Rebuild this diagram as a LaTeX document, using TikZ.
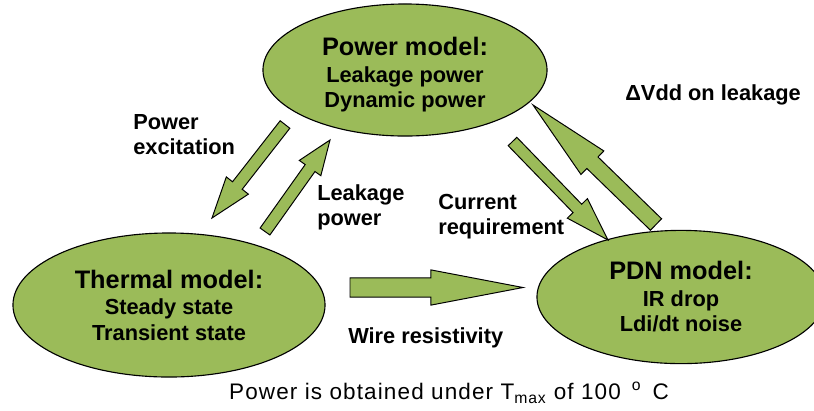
\documentclass[tikz,border=0pt]{standalone}
\usepackage{fontspec}
\setmainfont{Liberation Sans}
\usetikzlibrary{shapes.geometric,calc}

\definecolor{modelgreen}{RGB}{155,187,89}

% block arrow: tail, tip, half shaft width, half head width, head length
\newcommand{\blockarrow}[5]{%
  \coordinate (ab) at ($(#2)!#5!(#1)$);
  \draw[flowarrow] ($(#1)!#3!90:(#2)$) -- ($(ab)!#3!-90:(#1)$) -- ($(ab)!#4!-90:(#1)$) -- (#2)
    -- ($(ab)!#4!90:(#1)$) -- ($(ab)!#3!90:(#1)$) -- ($(#1)!#3!-90:(#2)$) -- cycle;
}

\begin{document}
\begin{tikzpicture}[x=0.025cm, y=-0.025cm,
    every node/.style={font=\bfseries\fontsize{15.5}{18}\selectfont},
    model/.style={ellipse, draw, line width=0.8pt, fill=modelgreen, align=center, inner sep=0pt},
    flowarrow/.style={draw, line width=0.7pt, fill=modelgreen, line join=miter},
    lbl/.style={anchor=north west, align=left, inner sep=0pt},
  ]
  \useasboundingbox (0,0) rectangle (814,410);

  % the three models
  \node[model, minimum width=7.1cm, minimum height=3.3cm] (pwr) at (405,70)
    {\rule{0pt}{20pt}{\fontsize{18}{18}\selectfont Power model:}\\[1pt] Leakage power\\ Dynamic power};
  \node[model, minimum width=7.8cm, minimum height=3.6cm] (thm) at (169,305)
    {{\fontsize{18}{18}\selectfont Thermal model:}\\[1pt] Steady state\\ Transient state};
  \node[model, minimum width=7.2cm, minimum height=3.33cm] (pdn) at (681,297)
    {{\fontsize{18}{18}\selectfont PDN model:}\\[1pt] IR drop\\ Ldi/dt noise};

  % arrow end points
  \coordinate (exc-t) at (285,124.5);  \coordinate (exc-h) at (212,218);
  \coordinate (lkg-t) at (265,231.5);  \coordinate (lkg-h) at (330,140);
  \coordinate (wire-t) at (350,287.5); \coordinate (wire-h) at (523,287.5);
  \coordinate (cur-t) at (512.5,141.5); \coordinate (cur-h) at (608,240);
  \coordinate (vdd-t) at (656,224.5);  \coordinate (vdd-h) at (533,105);

  \blockarrow{exc-t}{exc-h}{0.153cm}{0.35cm}{1.03cm}
  \blockarrow{lkg-t}{lkg-h}{0.15cm}{0.33cm}{0.86cm}
  \blockarrow{wire-t}{wire-h}{0.24cm}{0.44cm}{2.3cm}
  \blockarrow{cur-t}{cur-h}{0.15cm}{0.35cm}{1.1cm}
  \blockarrow{vdd-t}{vdd-h}{0.2cm}{0.41cm}{2.07cm}

  % labels
  \node[lbl] (exc) at (133,114) {Power\\excitation};
  \node[lbl] (lkg) at (317,184) {Leakage\\power};
  \node[lbl] (cur) at (438,194) {Current\\requirement};
  \node[lbl] (vdd) at (625,84) {ΔVdd on leakage};
  \node[lbl] (wire) at (348,327) {Wire resistivity};
  \node[anchor=north, inner sep=0pt, font=\fontsize{16}{18}\selectfont\addfontfeature{LetterSpace=5}] (note) at (449,382)
    {Power is obtained under T\textsubscript{max} of 100 \,\textsuperscript{o}\, C};
\end{tikzpicture}
\end{document}
